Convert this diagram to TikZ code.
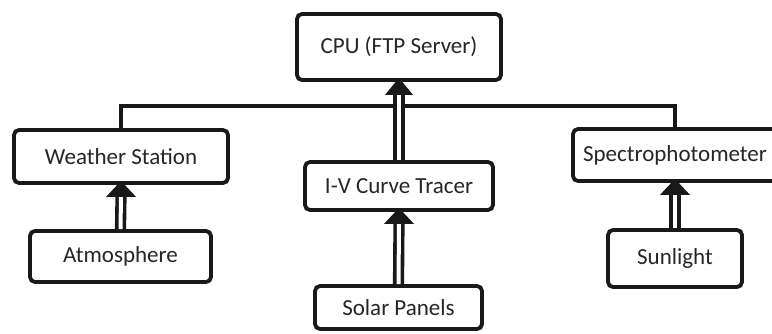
\documentclass[tikz,border=0pt]{standalone}
\usepackage{fontspec}
\setmainfont{Carlito}
\usetikzlibrary{calc}
\tikzset{
  box/.style={draw=black!90, line width=3.8pt, rounded corners=5pt, fill=white,
    align=center, inner sep=0pt, font=\fontsize{23}{27}\selectfont, text=black!85},
  dbl/.style={draw=black!90, line width=3.6pt, double=white, double distance=4pt},
  link/.style={draw=black!90, line width=3.8pt},
  head/.style={fill=black!90}
}
\begin{document}
\begin{tikzpicture}[x=1pt,y=-1pt]
\useasboundingbox (0,0) rectangle (772,334);
\clip (0,0) rectangle (772,334);
\fill[white] (0,0) rectangle (772,334);
\node[box, minimum width=204pt, minimum height=66pt] (cpu) at (399,47) {CPU (FTP Server)};
\node[box, minimum width=214pt, minimum height=53pt] (ws) at (121,156.5) {Weather Station};
\node[box, minimum width=181pt, minimum height=51pt] (atm) at (120.5,256.5) {Atmosphere};
\node[box, minimum width=188pt, minimum height=48pt] (iv) at (399,186) {I-V Curve Tracer};
\node[box, minimum width=167pt, minimum height=43pt] (sp) at (398.5,307.5) {Solar Panels};
\node[box, minimum width=204pt, minimum height=52pt] (spec) at (675,155) {Spectrophotometer};
\node[box, minimum width=134pt, minimum height=57pt] (sun) at (675,258.5) {Sunlight};
% bus line
\coordinate (bl) at (ws.north |- 0,106);
\coordinate (br) at (spec.north |- 0,106);
\draw[link] (ws.north) -- (bl) -- (br) -- (spec.north);
% double arrows
\draw[dbl] (iv.north) -- ($(cpu.south)+(0,12)$);
\fill[head] ($(cpu.south)+(0,-4)$) -- ++(-14,17) -- ++(28,0) -- cycle;
\draw[dbl] (atm.north) -- ($(ws.south)+(0,12)$);
\fill[head] ($(ws.south)+(0,-4)$) -- ++(-15,16) -- ++(30,0) -- cycle;
\draw[dbl] (sp.north) -- ($(iv.south)+(0,12)$);
\fill[head] ($(iv.south)+(0,-4)$) -- ++(-15,16) -- ++(30,0) -- cycle;
\draw[dbl] (sun.north) -- ($(spec.south)+(0,12)$);
\fill[head] ($(spec.south)+(0,-4)$) -- ++(-15,16) -- ++(30,0) -- cycle;
\end{tikzpicture}
\end{document}
